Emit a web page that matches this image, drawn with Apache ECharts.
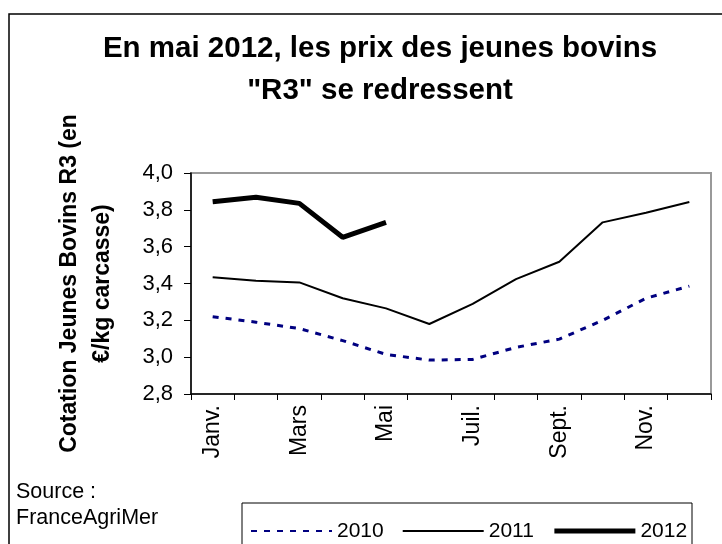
<!DOCTYPE html>
<html>
<head>
<meta charset="utf-8">
<script src="https://cdn.jsdelivr.net/npm/echarts@6/dist/echarts.min.js"></script>
<style>
  html, body { margin: 0; padding: 0; background: #fff; }
  #chart { width: 722px; height: 544px; }
</style>
</head>
<body>
<div id="chart"></div>
<script>
  var months = ['Janv.', 'Févr.', 'Mars', 'Avr.', 'Mai', 'Juin', 'Juil.', 'Août', 'Sept.', 'Oct.', 'Nov.', 'Déc.']
  var yearNames = ['2010', '2011', '2012']
  var data2010 = [3.22, 3.19, 3.155, 3.09, 3.015, 2.984, 2.988, 3.053, 3.098, 3.20, 3.32, 3.386]
  var data2011 = [3.434, 3.415, 3.406, 3.32, 3.265, 3.18, 3.289, 3.424, 3.518, 3.732, 3.784, 3.843]
  var data2012 = [3.844, 3.868, 3.835, 3.651, 3.732]
  var yTicks = { min: 2.8, max: 4.0, step: 0.2 }

  var font = 'Liberation Sans, Arial, sans-serif'
  var myChart = echarts.init(document.getElementById('chart'), null, { renderer: 'canvas' })
  var option = {
    backgroundColor: '#fff',
    animation: false,
    textStyle: { fontFamily: font },
    title: {
      text: 'En mai 2012, les prix des jeunes bovins\n"R3" se redressent',
      left: 375,
      top: 23,
      textAlign: 'center',
      textStyle: { fontSize: 29.5, fontWeight: 'bold', color: '#000', lineHeight: 42, fontFamily: font }
    },
    legend: {
      data: [
        { name: yearNames[0] },
        { name: yearNames[1], lineStyle: { width: 2 } },
        { name: yearNames[2], lineStyle: { width: 5 } }
      ],
      left: 250,
      top: 519,
      padding: 0,
      itemWidth: 81,
      itemHeight: 14,
      itemGap: 18,
      itemStyle: { opacity: 0 },
      textStyle: { fontSize: 21, color: '#000', lineHeight: 24, fontFamily: font }
    },
    grid: {
      left: 191,
      right: 11,
      top: 173,
      bottom: 150,
      show: true,
      borderColor: '#999',
      borderWidth: 2
    },
    xAxis: {
      type: 'category',
      data: months,
      boundaryGap: true,
      axisLine: { lineStyle: { color: '#000', width: 1.5 } },
      axisTick: { show: true, interval: 0, length: 6, lineStyle: { color: '#000' } },
      axisLabel: { interval: 1, rotate: 90, margin: 11, fontSize: 23, color: '#000', fontFamily: font }
    },
    yAxis: {
      type: 'value',
      min: yTicks.min,
      max: yTicks.max,
      interval: yTicks.step,
      name: 'Cotation Jeunes Bovins R3 (en\n€/kg carcasse)',
      nameLocation: 'middle',
      nameRotate: 90,
      nameGap: 72,
      nameTextStyle: { fontSize: 23, fontWeight: 'bold', color: '#000', lineHeight: 33, fontFamily: font },
      splitLine: { show: false },
      axisLine: { show: true, lineStyle: { color: '#000', width: 1.5 } },
      axisTick: { show: true, length: 7, lineStyle: { color: '#000' } },
      axisLabel: {
        margin: 18,
        fontSize: 22,
        color: '#000',
        fontFamily: font,
        formatter: function (v) { return v.toFixed(1).replace('.', ',') }
      }
    },
    graphic: [
      { type: 'rect', shape: { x: 9, y: 14, width: 800, height: 600 }, style: { fill: 'none', stroke: '#000', lineWidth: 1.5 }, silent: true },
      { type: 'rect', shape: { x: 242, y: 503, width: 450, height: 100 }, style: { fill: 'none', stroke: '#000', lineWidth: 1 }, silent: true },
      {
        type: 'text', left: 16, top: 479,
        style: { text: 'Source :\nFranceAgriMer', fontSize: 21.5, lineHeight: 26, fill: '#000', fontFamily: font }
      }
    ],
    series: [{
      name: '2010',
      type: 'line',
      data: data2010,
      symbol: 'none',
      lineStyle: { color: '#000080', width: 3, type: [6, 7] },
      itemStyle: { color: '#000080' }
    }, {
      name: '2011',
      type: 'line',
      data: data2011,
      symbol: 'none',
      lineStyle: { color: '#000', width: 2 },
      itemStyle: { color: '#000' }
    }, {
      name: '2012',
      type: 'line',
      data: data2012,
      symbol: 'none',
      lineStyle: { color: '#000', width: 5 },
      itemStyle: { color: '#000' }
    }]
  }
  option && myChart.setOption(option)
  window.addEventListener('resize', myChart.resize)
</script>
</body>
</html>
